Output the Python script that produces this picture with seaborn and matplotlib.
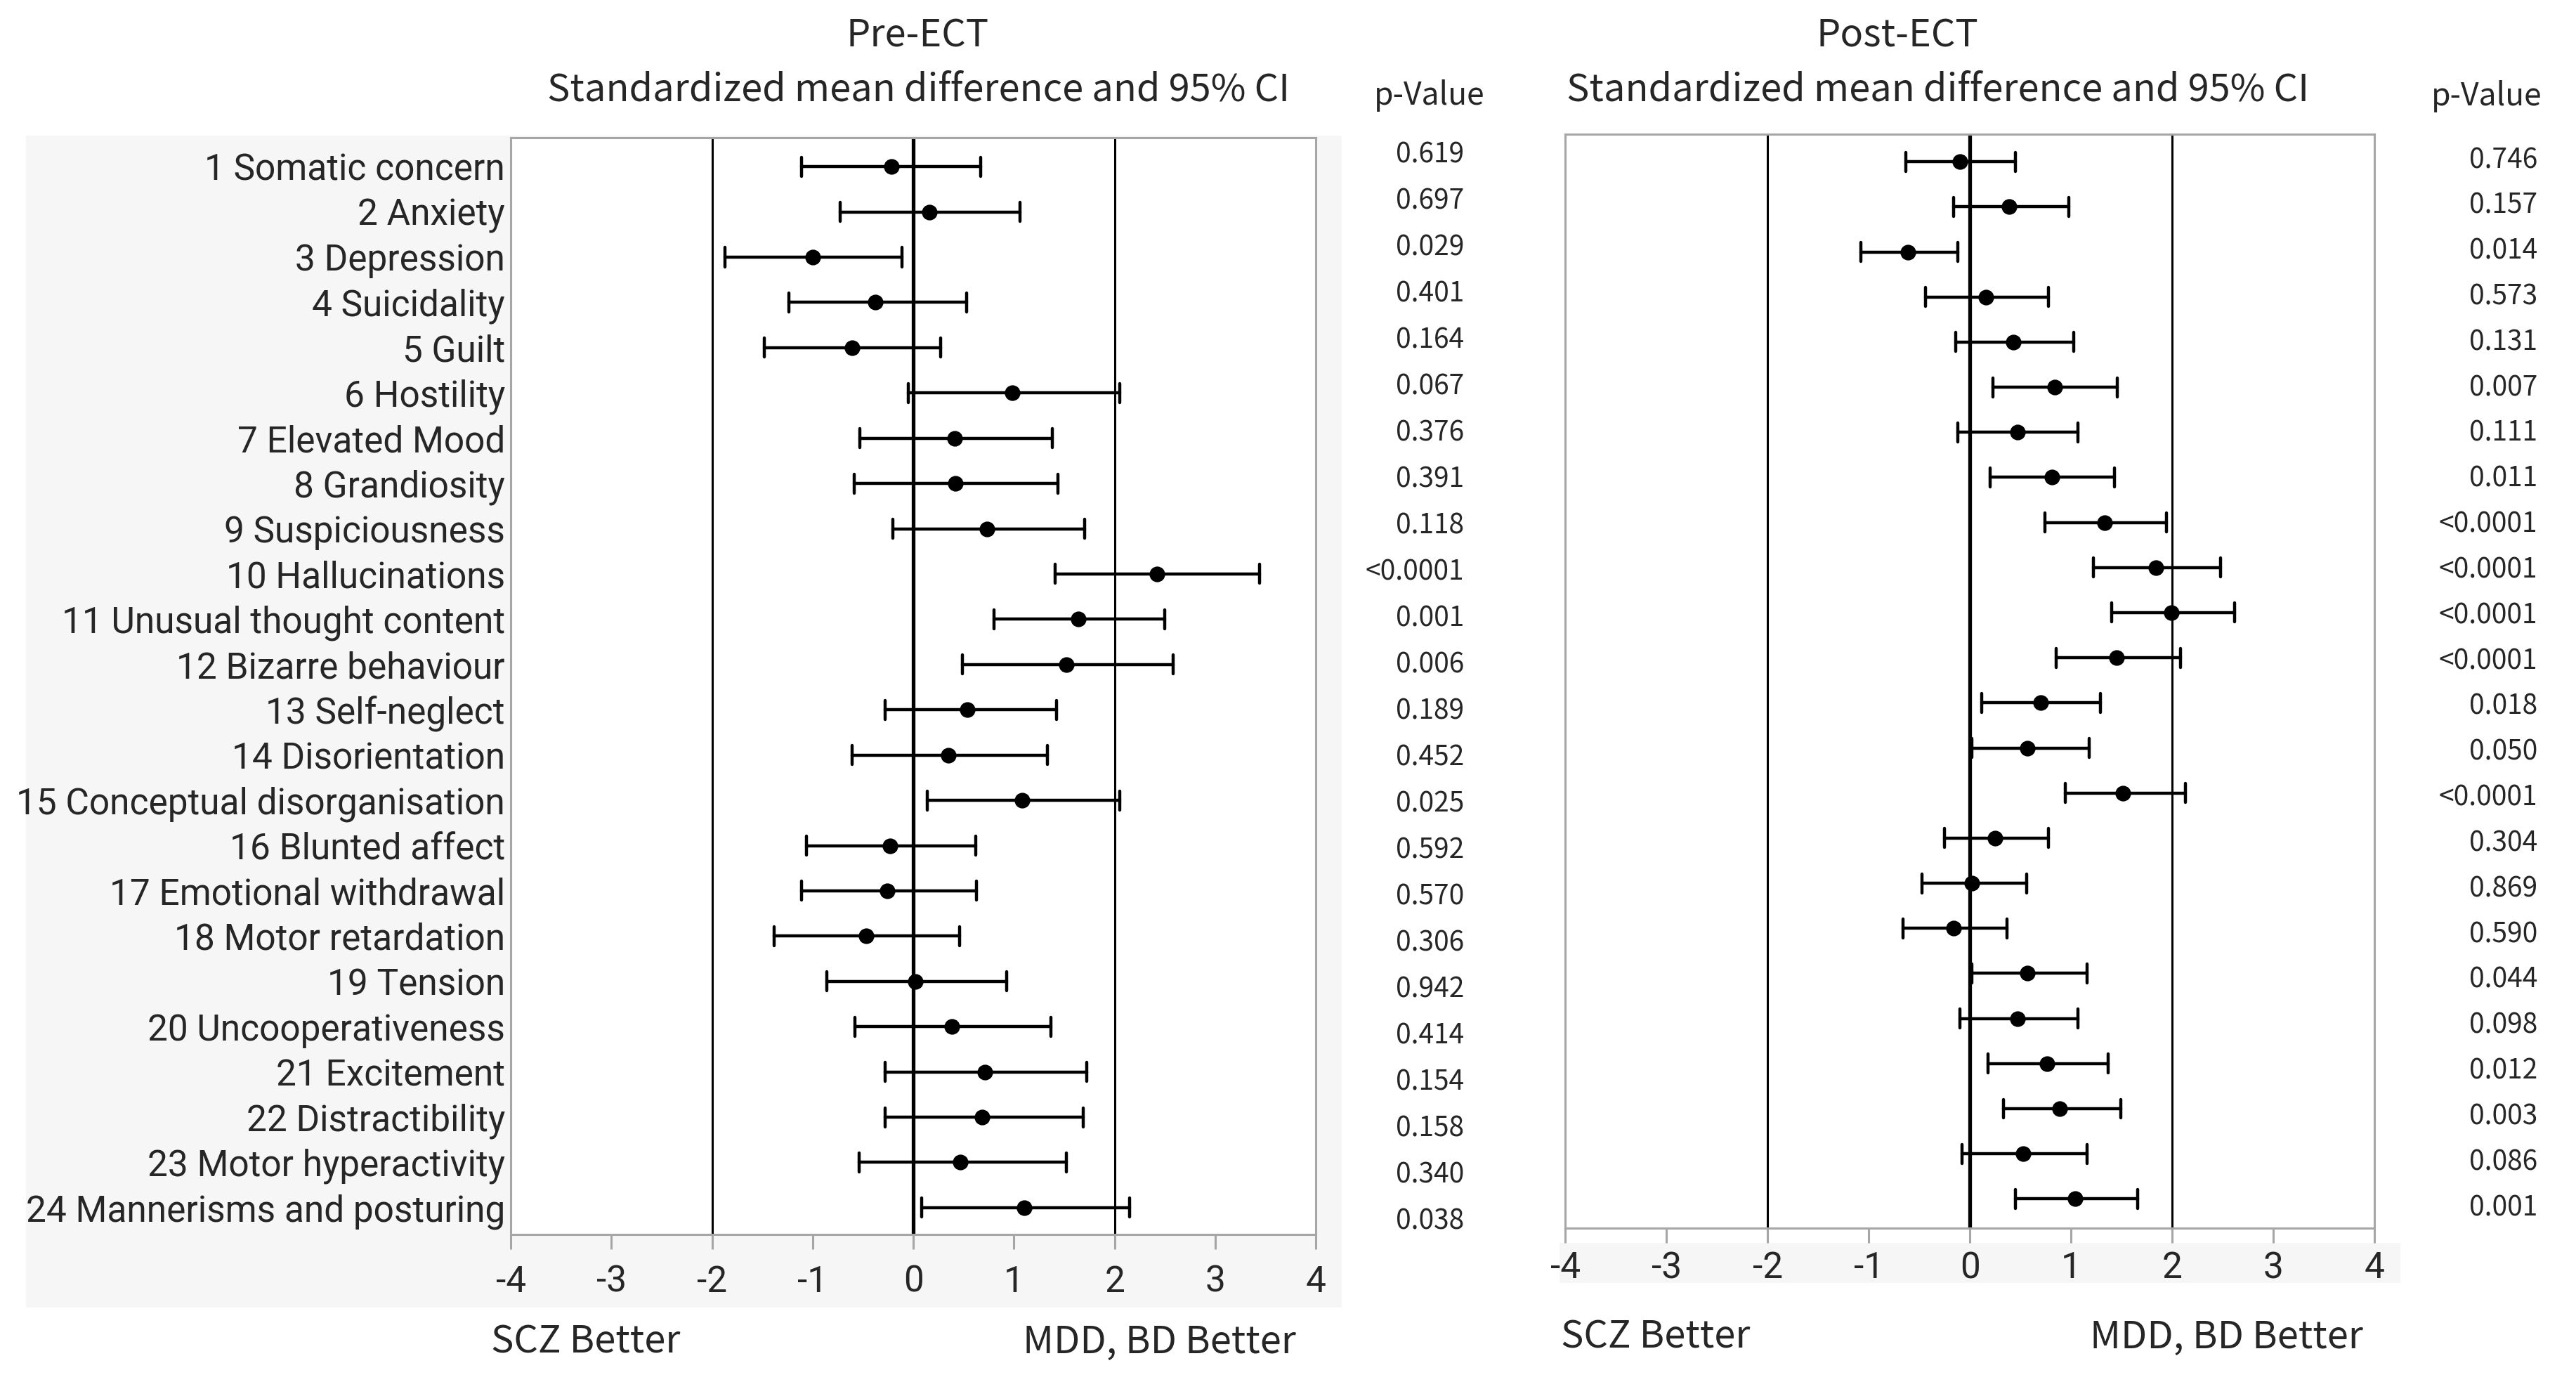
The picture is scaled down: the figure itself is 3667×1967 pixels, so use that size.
import pandas as pd
import matplotlib.pyplot as plt
import seaborn as sns
from matplotlib.patches import Rectangle

items = ["1 Somatic concern", "2 Anxiety", "3 Depression", "4 Suicidality", "5 Guilt",
         "6 Hostility", "7 Elevated Mood", "8 Grandiosity", "9 Suspiciousness",
         "10 Hallucinations", "11 Unusual thought content", "12 Bizarre behaviour",
         "13 Self-neglect", "14 Disorientation", "15 Conceptual disorganisation",
         "16 Blunted affect", "17 Emotional withdrawal", "18 Motor retardation",
         "19 Tension", "20 Uncooperativeness", "21 Excitement", "22 Distractibility",
         "23 Motor hyperactivity", "24 Mannerisms and posturing"]

# Pre-ECT standardized mean difference with 95% CI
pre_est = [-0.22, 0.16, -1.00, -0.38, -0.61, 0.98, 0.41, 0.42, 0.73, 2.42, 1.64, 1.52,
           0.54, 0.35, 1.08, -0.23, -0.26, -0.47, 0.02, 0.38, 0.71, 0.68, 0.47, 1.10]
pre_lo = [-1.11, -0.73, -1.87, -1.24, -1.48, -0.05, -0.53, -0.59, -0.20, 1.41, 0.80, 0.49,
          -0.28, -0.61, 0.14, -1.06, -1.11, -1.38, -0.86, -0.58, -0.28, -0.28, -0.54, 0.08]
pre_hi = [0.67, 1.06, -0.11, 0.53, 0.27, 2.05, 1.38, 1.44, 1.70, 3.44, 2.50, 2.58,
          1.42, 1.33, 2.05, 0.62, 0.63, 0.46, 0.93, 1.37, 1.72, 1.69, 1.52, 2.15]
pre_p = ["0.619", "0.697", "0.029", "0.401", "0.164", "0.067", "0.376", "0.391", "0.118",
         "<0.0001", "0.001", "0.006", "0.189", "0.452", "0.025", "0.592", "0.570", "0.306",
         "0.942", "0.414", "0.154", "0.158", "0.340", "0.038"]

# Post-ECT
post_est = [-0.10, 0.39, -0.61, 0.16, 0.43, 0.84, 0.47, 0.81, 1.33, 1.84, 1.99, 1.45,
            0.70, 0.57, 1.51, 0.25, 0.02, -0.16, 0.57, 0.47, 0.76, 0.89, 0.53, 1.04]
post_lo = [-0.63, -0.16, -1.08, -0.44, -0.14, 0.23, -0.12, 0.20, 0.74, 1.22, 1.40, 0.85,
           0.12, 0.02, 0.94, -0.25, -0.47, -0.66, 0.02, -0.10, 0.18, 0.33, -0.08, 0.45]
post_hi = [0.45, 0.98, -0.12, 0.78, 1.03, 1.46, 1.07, 1.43, 1.94, 2.48, 2.62, 2.08,
           1.29, 1.18, 2.13, 0.78, 0.56, 0.37, 1.16, 1.07, 1.37, 1.49, 1.16, 1.66]
post_p = ["0.746", "0.157", "0.014", "0.573", "0.131", "0.007", "0.111", "0.011", "<0.0001",
          "<0.0001", "<0.0001", "<0.0001", "0.018", "0.050", "<0.0001", "0.304", "0.869",
          "0.590", "0.044", "0.098", "0.012", "0.003", "0.086", "0.001"]

xticks = [-4, -3, -2, -1, 0, 1, 2, 3, 4]

sns.set_style("white")
LAB = ["Roboto", "DejaVu Sans"]
JP = ["Noto Sans CJK JP", "DejaVu Sans"]
GREY = "#a6a6a6"

fig = plt.figure(figsize=(36.67, 19.67), dpi=100)
# light grey panel behind the left chart and the right tick-label strip
fig.patches.append(Rectangle((0.0101, 0.0539), 0.5108, 0.848, transform=fig.transFigure,
                             facecolor="#f6f6f6", edgecolor="none", zorder=-5))
fig.patches.append(Rectangle((0.6054, 0.0717), 0.3264, 0.029, transform=fig.transFigure,
                             facecolor="#f6f6f6", edgecolor="none", zorder=-5))

ax1 = fig.add_axes([0.1983, 0.1068, 0.3125, 0.7936])
ax2 = fig.add_axes([0.6076, 0.1113, 0.3142, 0.7916])


def draw(ax, est, lo, hi, ylim, pad):
    # lo/est/hi per item -> median = estimate, full range = CI
    df = pd.DataFrame({"item": items * 3, "smd": lo + est + hi})
    ax.axvline(-2, color="black", lw=2.2, zorder=1)
    ax.axvline(2, color="black", lw=2.2, zorder=1)
    ax.axvline(0, color="black", lw=3.8, zorder=1)
    sns.pointplot(data=df, x="smd", y="item", order=items, estimator="median",
                  errorbar=("pi", 100), linestyle="none", marker="o", color="black",
                  markersize=14, capsize=0.42, err_kws={"linewidth": 3.2}, ax=ax)
    ax.set_xlim(-4, 4)
    ax.set_ylim(*ylim)
    ax.set_xticks(xticks)
    ax.set_xticklabels([str(t) for t in xticks], family=LAB, fontsize=37)
    ax.set_xlabel("")
    ax.set_ylabel("")
    ax.set_facecolor("white")
    for s in ax.spines.values():
        s.set_color(GREY)
        s.set_linewidth(2.2)
    ax.tick_params(axis="x", direction="out", length=15, width=2.2, color=GREY, pad=pad,
                   bottom=True)
    ticks = ax.xaxis.get_major_ticks()
    ticks[0].tick1line.set_color("black")
    ticks[-1].tick1line.set_color("black")


draw(ax1, pre_est, pre_lo, pre_hi, (23.59, -0.64), 16)
ax1.set_yticks(range(len(items)))
ax1.set_yticklabels(items, family=LAB, fontsize=37)
ax1.tick_params(axis="y", length=0, pad=6)

draw(ax2, post_est, post_lo, post_hi, (23.65, -0.61), 8)
ax2.set_yticks([])

# titles
fig.text(0.3562, 0.974, "Pre-ECT", ha="center", va="center", family=JP, fontsize=39)
fig.text(0.3567, 0.9349, "Standardized mean difference and 95% CI", ha="center",
         va="center", family=JP, fontsize=39)
fig.text(0.7366, 0.974, "Post-ECT", ha="center", va="center", family=JP, fontsize=39)
fig.text(0.7524, 0.9349, "Standardized mean difference and 95% CI", ha="center",
         va="center", family=JP, fontsize=39)
fig.text(0.555, 0.9309, "p-Value", ha="center", va="center", family=JP, fontsize=32)
fig.text(0.9654, 0.9303, "p-Value", ha="center", va="center", family=JP, fontsize=32)

# p-values
for i, p in enumerate(pre_p):
    y = 220 + i * (1738 - 220) / 23
    fig.text(0.5683, 1 - y / 1967, p, ha="right", va="center", family=JP, fontsize=28)
for i, p in enumerate(post_p):
    y = 228 + i * (1719 - 228) / 23
    fig.text(0.985, 1 - y / 1967, p, ha="right", va="center", family=JP, fontsize=28)

# direction labels
fig.text(0.1906, 0.029, "SCZ Better", ha="left", va="center", family=JP, fontsize=39)
fig.text(0.5031, 0.029, "MDD, BD Better", ha="right", va="center", family=JP, fontsize=39)
fig.text(0.606, 0.0325, "SCZ Better", ha="left", va="center", family=JP, fontsize=39)
fig.text(0.9174, 0.0325, "MDD, BD Better", ha="right", va="center", family=JP, fontsize=39)

fig.savefig("out.png", dpi=100, facecolor="white")
